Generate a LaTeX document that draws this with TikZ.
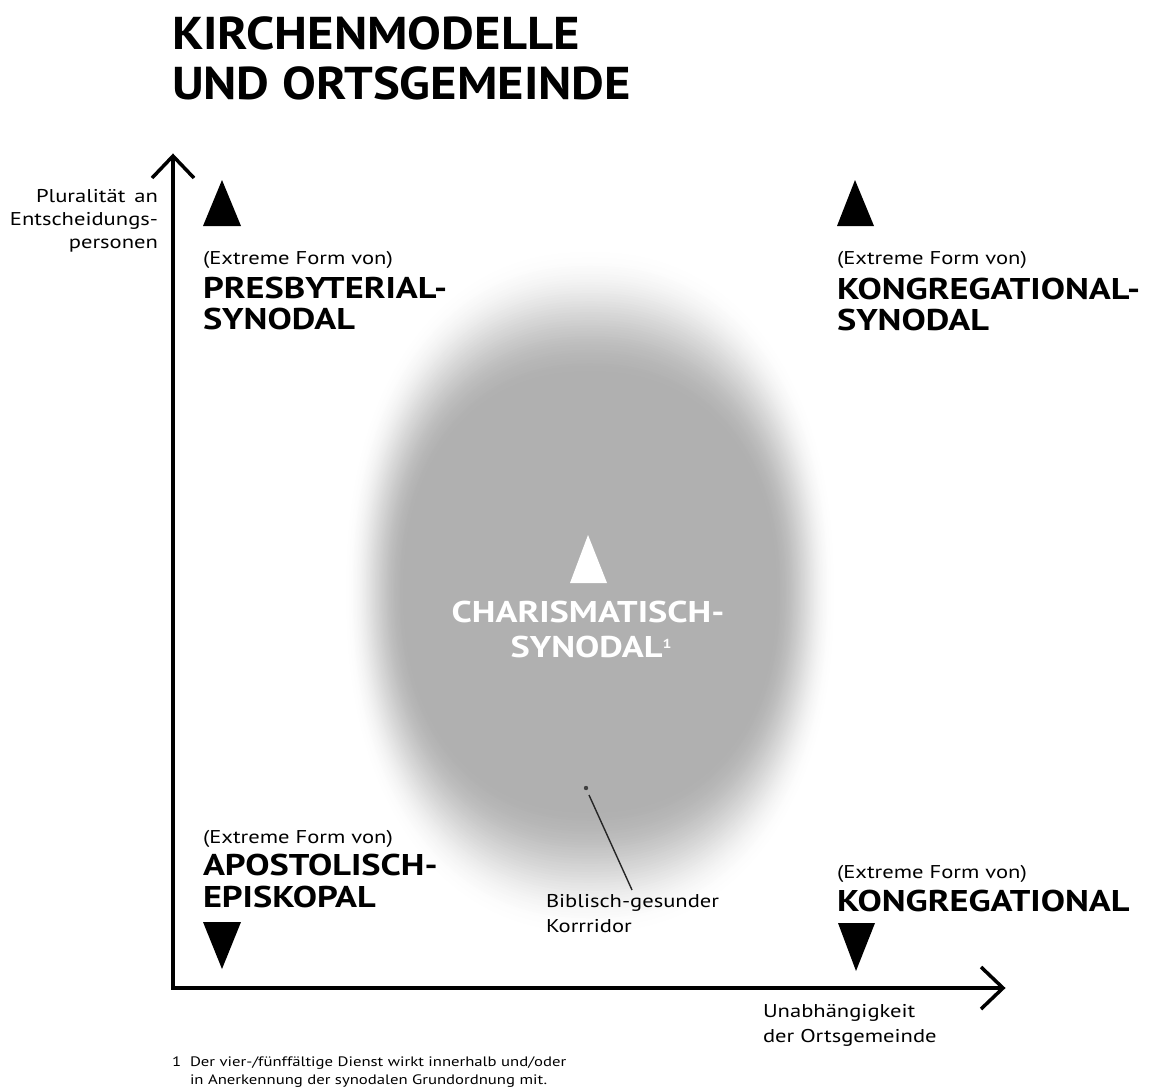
\documentclass[tikz,border=0pt]{standalone}
\usepackage{fontspec}
\setmainfont{PT Sans}
\newfontfamily\titlefont[FakeStretch=1.10]{PT Sans}
\newfontfamily\labelfont[FakeStretch=1.21]{PT Sans}
\newfontfamily\smallfont[FakeStretch=1.22]{PT Sans}
\usetikzlibrary{arrows.meta,calc}
\definecolor{blobgray}{RGB}{176,176,176}
\tikzset{
  every node/.style={inner sep=0pt, outer sep=0pt},
  titletxt/.style={anchor=base west, font=\titlefont\fontsize{46}{50}\bfseries\selectfont},
  bigtxt/.style={anchor=base west, font=\labelfont\fontsize{30}{32}\bfseries\selectfont},
  smalltxt/.style={anchor=base west, font=\smallfont\fontsize{18.5}{22}\selectfont},
  labeltxt/.style={font=\smallfont\fontsize{18.5}{22}\selectfont},
  foottxt/.style={anchor=base west, font=\smallfont\fontsize{13.7}{16}\selectfont},
  axis/.style={line width=3.5pt},
  tri/.style={fill=black},
}
\begin{document}
\begin{tikzpicture}[x=1pt,y=-1pt]
\useasboundingbox[fill=white] (0,0) rectangle (1158,1089);

% gray corridor: soft-edged rounded oval built from nested layers
\foreach \i in {0,...,48}{
  \pgfmathsetmacro{\t}{\i/48}
  \pgfmathsetmacro{\p}{100*(3*\t*\t-2*\t*\t*\t)}
  \pgfmathsetmacro{\ra}{246-62*\t}
  \pgfmathsetmacro{\rb}{345-130*\t}
  \fill[blobgray!\p!white] plot[domain=0:360, samples=121]
    ({590+\ra*sign(cos(\x))*pow(abs(cos(\x))+0.0001,0.9)},
     {592+\rb*sign(sin(\x))*pow(abs(sin(\x))+0.0001,0.9)}) -- cycle;
}

% title
\node[titletxt] (t1) at (172,50) {KIRCHENMODELLE};
\node[titletxt] (t2) at (172,100) {UND ORTSGEMEINDE};

% axes
\coordinate (ytop) at (173,156);
\coordinate (origin) at (173,988);
\coordinate (xend) at (1003,988);
\draw[axis, line join=miter] (ytop) -- (origin) -- (xend);
\draw[axis, line join=miter] ($(ytop)+(-21,22)$) -- (ytop) -- ($(ytop)+(21,22)$);
\draw[axis, line join=miter] ($(xend)+(-22,-21)$) -- (xend) -- ($(xend)+(-22,21)$);

% y-axis label
\node[labeltxt, anchor=base east] (yl1) at (158,202) {Pluralität\hspace{3pt} an};
\node[labeltxt, anchor=base east] (yl2) at (158,225) {Entscheidungs-};
\node[labeltxt, anchor=base east] (yl3) at (158,248) {personen};

% x-axis label
\node[smalltxt] (xl1) at (763,1017) {Unabhängigkeit};
\node[smalltxt] (xl2) at (763,1042) {der Ortsgemeinde};

% upper left
\fill[tri] (203,226) -- (241,226) -- (222,180) -- cycle;
\node[smalltxt] (pl0) at (203,264) {(Extreme Form von)};
\node[bigtxt] (pl1) at (203,298) {PRESBYTERIAL-};
\node[bigtxt] (pl2) at (203,329) {SYNODAL};

% upper right
\fill[tri] (837,226) -- (874,226) -- (855,180) -- cycle;
\node[smalltxt] (kr0) at (837,264) {(Extreme Form von)};
\node[bigtxt] (kr1) at (837,299) {KONGREGATIONAL-};
\node[bigtxt] (kr2) at (837,330) {SYNODAL};

% lower left
\node[smalltxt] (al0) at (203,843) {(Extreme Form von)};
\node[bigtxt] (al1) at (203,875) {APOSTOLISCH-};
\node[bigtxt] (al2) at (203,907) {EPISKOPAL};
\fill[tri] (203,922) -- (241,922) -- (222,969) -- cycle;

% lower right
\node[smalltxt] (kl0) at (837,878) {(Extreme Form von)};
\node[bigtxt] (kl1) at (837,911) {KONGREGATIONAL};
\fill[tri] (838,923) -- (875,923) -- (856,971) -- cycle;

% centre
\fill[white] (570,583) -- (607,583) -- (588,535) -- cycle;
\node[font=\labelfont\fontsize{30}{32}\bfseries\selectfont, text=white, anchor=base] (c1) at (588,622) {CHARISMATISCH-};
\node[font=\labelfont\fontsize{30}{32}\bfseries\selectfont, text=white, anchor=base] (c2) at (591,657) {SYNODAL\raisebox{9pt}{\fontsize{13}{13}\selectfont 1}};

% corridor label and leader
\coordinate (dot) at (586,788);
\fill[black!75] (dot) circle (2.2);
\node[smalltxt] (b1) at (546,907) {Biblisch-gesunder};
\node[smalltxt] (b2) at (546,932) {Korrridor};
\coordinate (leadend) at (632,890);
\draw[line width=1.4pt, black!85] ($(dot)+(3,7)$) -- (leadend);

% footnote
\node[foottxt] (f0) at (172,1066) {1};
\node[foottxt] (f1) at (190,1066) {Der vier-/fünffältige Dienst wirkt innerhalb und/oder};
\node[foottxt] (f2) at (190,1084) {in Anerkennung der synodalen Grundordnung mit.};
\end{tikzpicture}
\end{document}
